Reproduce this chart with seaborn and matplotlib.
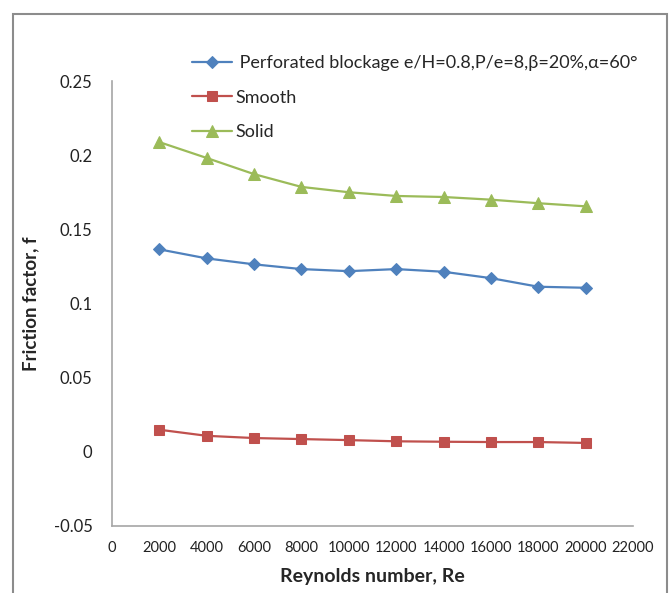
import numpy as np
import pandas as pd
import seaborn as sns
import matplotlib.pyplot as plt
from matplotlib.patches import Rectangle
from matplotlib.ticker import FuncFormatter

# Reynolds numbers and friction factors
reynolds = [2000, 4000, 6000, 8000, 10000, 12000, 14000, 16000, 18000, 20000]
perforated = [0.1365, 0.1304, 0.1264, 0.1232, 0.1218, 0.1232, 0.1214, 0.1171, 0.1113, 0.1106]
smooth = [0.0149, 0.0108, 0.0093, 0.0086, 0.0079, 0.0071, 0.0068, 0.0066, 0.0066, 0.0060]
solid = [0.2088, 0.1981, 0.1872, 0.1786, 0.1750, 0.1725, 0.1718, 0.1700, 0.1676, 0.1655]

labels = [" Perforated blockage e/H=0.8,P/e=8,\u03b2=20%,\u03b1=60\u00b0", "Smooth", "Solid"]
colors = ["#4F81BD", "#C0504D", "#9BBB59"]
markers = ["D", "s", "^"]
msizes = [6.5, 7.5, 8.5]

sns.set_style("white")
plt.rcParams['font.family'] = ['Lato', 'DejaVu Sans']

fig = plt.figure(figsize=(6.7, 5.93), dpi=100)
ax = fig.add_axes([112 / 670, 1 - 526 / 593, (633 - 112) / 670, (526 - 81) / 593])

for vals, lab, col, mk, ms in zip([perforated, smooth, solid], labels, colors, markers, msizes):
    df = pd.DataFrame({"Re": reynolds, "f": vals})
    sns.lineplot(data=df, x="Re", y="f", ax=ax, color=col, marker=mk, markersize=ms,
                 markeredgecolor=col, linewidth=1.6, label=lab)

ax.set_xlim(0, 22000)
ax.set_ylim(-0.05, 0.25)
ax.set_xticks(np.arange(0, 22001, 2000))
ax.set_yticks(np.arange(-0.05, 0.2501, 0.05))
ax.yaxis.set_major_formatter(FuncFormatter(lambda v, p: f"{round(v, 2):g}"))
ax.tick_params(axis='y', length=0, pad=14, labelsize=12, colors='#222222')
ax.tick_params(axis='x', length=0, pad=11, labelsize=10.5, colors='#222222')

for s in ['top', 'right']:
    ax.spines[s].set_visible(False)
for s in ['left', 'bottom']:
    ax.spines[s].set_color('#A6A6A6')
    ax.spines[s].set_linewidth(1.2)

ax.set_xlabel("Reynolds number, Re", fontsize=14, fontweight='bold')
ax.set_ylabel("Friction factor, f", fontsize=13.5, fontweight='bold')
ax.yaxis.set_label_coords(-(112 - 39) / 521, 0.5)
ax.xaxis.set_label_coords(0.5, -(568 - 526) / 445)

leg = ax.legend(loc='upper left', bbox_to_anchor=(192 / 670, 1 - 55 / 593),
                bbox_transform=fig.transFigure, frameon=False, fontsize=13,
                handlelength=2.2, handletextpad=0.2, labelspacing=1.03,
                borderpad=0, borderaxespad=0)

# outer chart frame
fig.patches.append(Rectangle((13 / 670, -0.05), (667 - 13) / 670, 1.05 - 14 / 593,
                             transform=fig.transFigure, fill=False,
                             edgecolor='#8C8C8C', linewidth=1.5))

fig.savefig("out.png", dpi=100)
